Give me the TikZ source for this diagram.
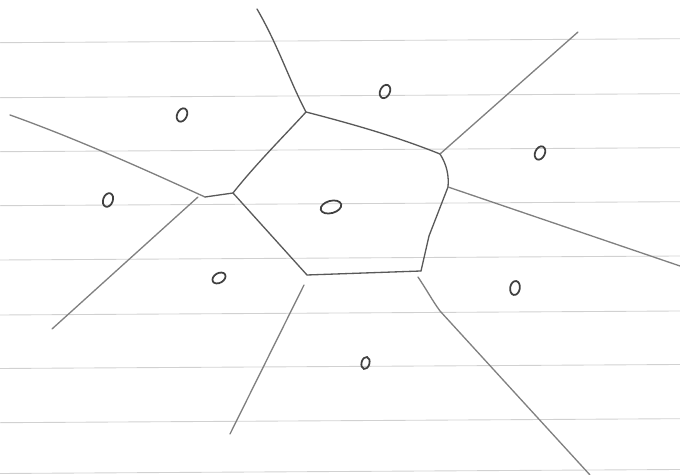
\documentclass[tikz,border=0pt]{standalone}
\usetikzlibrary{shapes.geometric}
\begin{document}
\begin{tikzpicture}[x=0.02cm,y=-0.02cm,
  rule/.style={draw=black!18,line width=0.5pt},
  edge/.style={draw=black!65,line width=0.75pt,line cap=round,line join=round},
  ray/.style={edge,draw=black!50},
  site/.style={ellipse,draw=black!75,line width=1pt,inner sep=0pt,minimum width=5.5pt,minimum height=8pt},
]
\useasboundingbox (0,0) rectangle (680,475);
% ruled paper
\foreach \y in {42.7,97.7,151.7,205.7,260,315,368.5,422.7,473.5}
  \draw[rule] (0,\y) -- (680,\y-4);
% Voronoi vertices
\coordinate (A) at (306,112);
\coordinate (B) at (440,154);
\coordinate (C) at (448,187);
\coordinate (D) at (421,271);
\coordinate (E) at (307,275);
\coordinate (F) at (233,193);
\coordinate (G) at (205,197);
% free ends
\coordinate (tA) at (257,9);
\coordinate (tB) at (578,32);
\coordinate (tC) at (680,266);
\coordinate (tD) at (590,475);
\coordinate (tE) at (230,434);
\coordinate (tG1) at (10,115);
\coordinate (tG2) at (52,329);
% inner cell
\draw[edge] (A) .. controls (360,126) and (400,138) .. (B);
\draw[edge] (B) .. controls (447,165) and (449,176) .. (C);
\draw[edge] (C) -- (429,236) -- (D);
\draw[edge] (D) -- (E);
\draw[edge] (E) -- (F);
\draw[edge] (F) .. controls (255,165) and (285,135) .. (A);
\draw[edge] (F) -- (G);
% rays
\draw[edge] (A) .. controls (290,82) and (278,45) .. (tA);
\draw[ray] (B) -- (tB);
\draw[ray] (C) -- (tC);
\draw[ray] (418,277) .. controls (428,292) and (432,300) .. (440,311) -- (tD);
\draw[ray] (304,285) -- (tE);
\draw[ray] (G) .. controls (150,172) and (80,140) .. (tG1);
\draw[ray] (198,197) -- (tG2);
% sites
\node[site,rotate=-25] (s1) at (182,115) {};
\node[site,rotate=-20] (s2) at (108,200) {};
\node[site,rotate=15,minimum width=12pt,minimum height=7pt] (s3) at (331,207) {};
\node[site,rotate=-25] (s4) at (385,91.5) {};
\node[site,rotate=-25] (s5) at (540,153) {};
\node[site,rotate=-60] (s6) at (219,278) {};
\node[site,rotate=-10] (s7) at (515,288) {};
\node[site,rotate=-15,minimum width=4.5pt,minimum height=7pt] (s8) at (365.5,363) {};
\end{tikzpicture}
\end{document}
